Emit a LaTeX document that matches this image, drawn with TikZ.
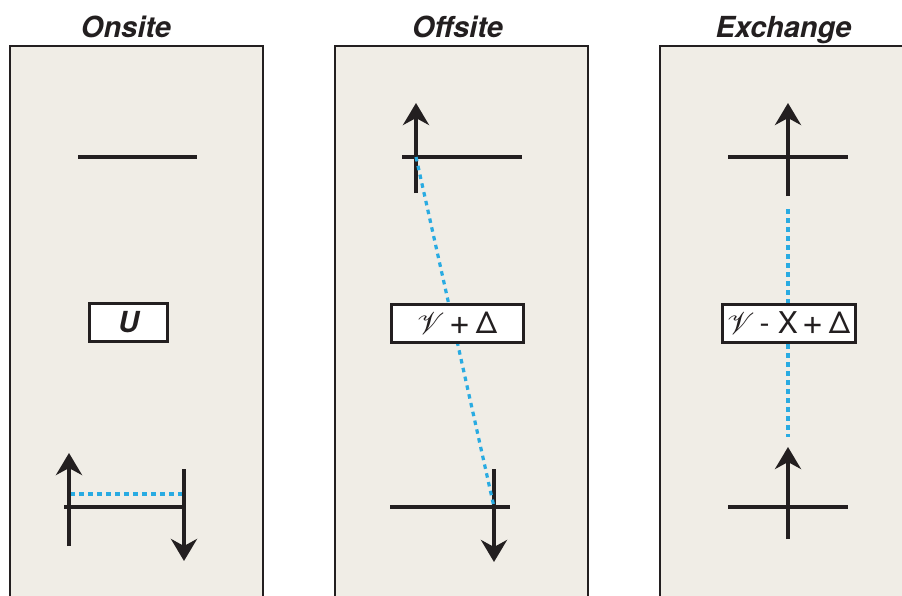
\documentclass[tikz,border=0pt]{standalone}
\usepackage{mathrsfs}
\usepackage{fontspec}
\setmainfont{TeX Gyre Heros}
\usetikzlibrary{arrows.meta}

\definecolor{ink}{HTML}{231F20}
\definecolor{panelbg}{HTML}{F0EDE6}
\definecolor{bond}{HTML}{29ABE2}

% script V used for the Coulomb term, and a heavier plus sign
\newcommand{\scriptV}{\raisebox{-1pt}{\scalebox{3.1}{\fontsize{10}{12}\selectfont$\mathscr{V}$}}}
\newcommand{\bigplus}{{\fontsize{36}{36}\selectfont\raisebox{-1pt}{+}}}

\tikzset{
  panel/.style={draw=ink, line width=2.6pt, fill=panelbg},
  title/.style={font=\bfseries\itshape\fontsize{29}{29}\selectfont, text=ink, anchor=base, inner sep=0pt},
  level/.style={draw=ink, line width=4pt},
  spin/.style={draw=ink, line width=4pt, -{Stealth[length=22pt,width=26pt,inset=7pt]}},
  bondline/.style={draw=bond, line width=3.2pt, dash pattern=on 4.5pt off 4.5pt},
  valbox/.style={draw=ink, line width=3pt, fill=white, inner sep=0pt, minimum height=38pt,
    text=ink, font=\fontsize{30}{30}\selectfont},
}

\begin{document}
\begin{tikzpicture}[x=1pt, y=-1pt]
\clip (0,0) rectangle (902,595);
\fill[white] (0,0) rectangle (902,595);

% panels
\draw[panel] (10,46) rectangle (263,620);
\draw[panel] (335,46) rectangle (588,620);
\draw[panel] (660,46) rectangle (920,620);

% titles
\node[title] (tOn) at (126,37) {Onsite};
\node[title] (tOff) at (457.5,37) {Offsite};
\node[title] (tEx) at (783.5,37) {Exchange};

% ---------- Onsite ----------
\coordinate (a1) at (78,157);  \coordinate (a2) at (197,157);
\coordinate (b1) at (64,507);  \coordinate (b2) at (184,507);
\coordinate (u0) at (69,546);  \coordinate (u1) at (69,453);
\coordinate (d0) at (184,469); \coordinate (d1) at (184,561);
\coordinate (p1) at (70,494);  \coordinate (p2) at (184,494);
\draw[level] (a1) -- (a2);
\draw[level] (b1) -- (b2);
\draw[bondline] (p1) -- (p2);
\draw[spin] (u0) -- (u1);
\draw[spin] (d0) -- (d1);
\node[valbox, minimum width=78pt, font=\bfseries\itshape\fontsize{29}{29}\selectfont] (U) at (128.5,322) {U};

% ---------- Offsite ----------
\coordinate (c1) at (402,157); \coordinate (c2) at (522,157);
\coordinate (e1) at (390,507); \coordinate (e2) at (510,507);
\coordinate (f0) at (416,193); \coordinate (f1) at (416,103);
\coordinate (g0) at (494,469); \coordinate (g1) at (494,562);
\coordinate (q1) at (416,157); \coordinate (q2) at (494,507);
\draw[level] (c1) -- (c2);
\draw[level] (e1) -- (e2);
\draw[spin] (f0) -- (f1);
\draw[spin] (g0) -- (g1);
\draw[bondline] (q1) -- (q2);
\node[valbox, minimum width=132pt] (V) at (457,323) {\scriptV\,\bigplus\,Δ};

% ---------- Exchange ----------
\coordinate (h1) at (728,157); \coordinate (h2) at (848,157);
\coordinate (k1) at (728,507); \coordinate (k2) at (848,507);
\coordinate (m0) at (788,196); \coordinate (m1) at (788,103);
\coordinate (n0) at (788,539); \coordinate (n1) at (788,447);
\coordinate (r1) at (788,209); \coordinate (r2) at (788,437);
\draw[level] (h1) -- (h2);
\draw[level] (k1) -- (k2);
\draw[spin] (m0) -- (m1);
\draw[spin] (n0) -- (n1);
\draw[bondline] (r1) -- (r2);
\node[valbox, minimum width=133pt] (X) at (788.5,323.5) {\scriptV\,- X\,\bigplus\,Δ};
\end{tikzpicture}
\end{document}
